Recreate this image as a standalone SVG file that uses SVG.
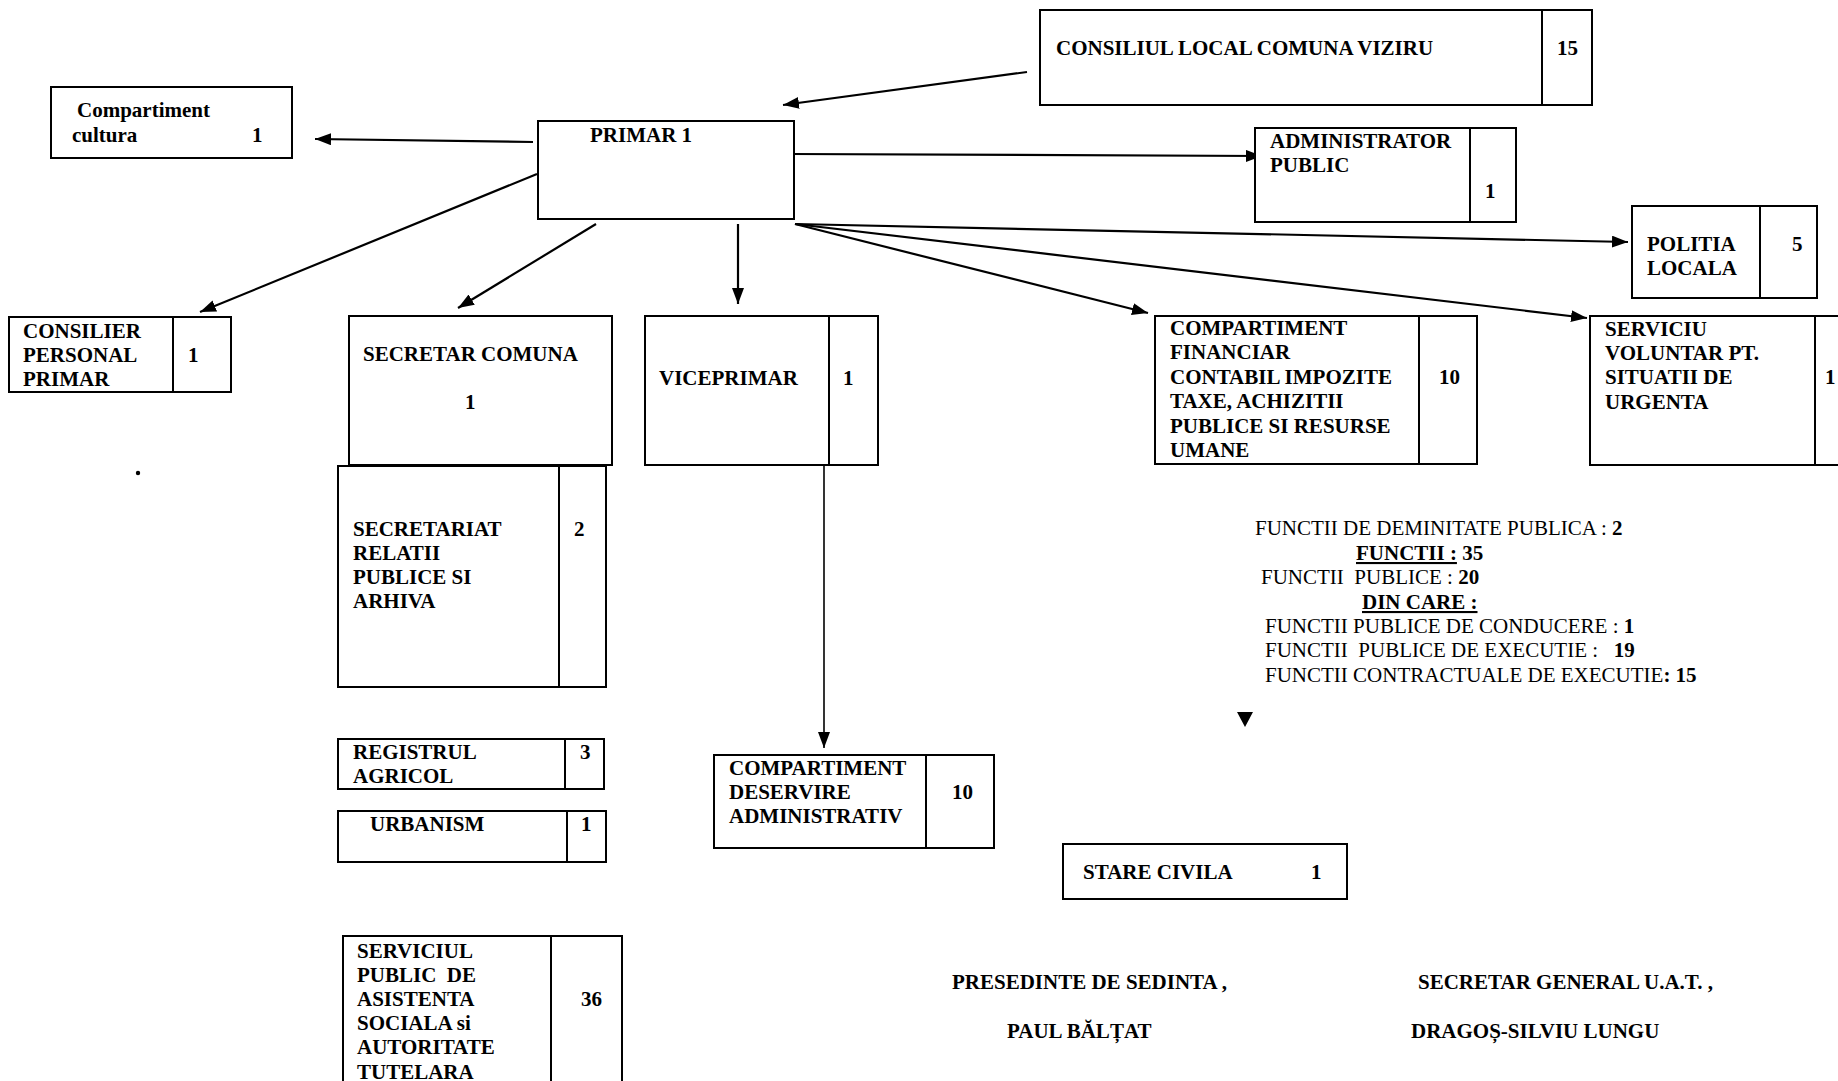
<svg xmlns="http://www.w3.org/2000/svg" width="1838" height="1081" viewBox="0 0 1838 1081">
<defs>
<marker id="ah" markerUnits="userSpaceOnUse" markerWidth="18" markerHeight="14" refX="16" refY="6" orient="auto">
<path d="M0,0 L16,6 L0,12 z" fill="#000"/>
</marker>
<style>
.b{fill:#fff;stroke:#000;stroke-width:2}
.d{stroke:#000;stroke-width:2}
.t{font-family:"Liberation Serif","Times New Roman",serif;font-size:21px;font-weight:bold;fill:#000;white-space:pre}
.r{font-family:"Liberation Serif","Times New Roman",serif;font-size:21px;font-weight:normal;fill:#000;white-space:pre}
.bo{font-weight:bold}
.u{text-decoration:underline}
.c{fill:none;stroke:#000;stroke-width:2.2;marker-end:url(#ah)}
</style>
</defs>
<rect width="1838" height="1081" fill="#fff"/>

<g id="connectors">
<line class="c" x1="1027" y1="72" x2="783" y2="105"/>
<line class="c" x1="533" y1="142" x2="315" y2="139"/>
<line class="c" x1="790" y1="154" x2="1262" y2="156"/>
<line class="c" x1="537" y1="174" x2="200" y2="312"/>
<line class="c" x1="596" y1="224" x2="458" y2="308"/>
<line class="c" x1="738" y1="224" x2="738" y2="304"/>
<line class="c" x1="795" y1="224" x2="1628" y2="242"/>
<line class="c" x1="795" y1="224" x2="1148" y2="313"/>
<line class="c" x1="795" y1="224" x2="1587" y2="318"/>
<line class="c" style="stroke-width:1.6" x1="824" y1="466" x2="824" y2="748"/>
<polygon points="1237,712 1253,712 1245,727" fill="#000"/>
</g>

<g id="consiliul">
<rect class="b" x="1040" y="10" width="552" height="95"/>
<line class="d" x1="1542" y1="10" x2="1542" y2="105"/>
<text class="t" x="1056" y="55">CONSILIUL LOCAL COMUNA VIZIRU</text>
<text class="t" x="1557" y="55">15</text>
</g>

<g id="primar">
<rect class="b" x="538" y="121" width="256" height="98"/>
<text class="t" x="590" y="142">PRIMAR 1</text>
</g>

<g id="cultura">
<rect class="b" x="51" y="87" width="241" height="71"/>
<text class="t" x="77" y="117">Compartiment</text>
<text class="t" x="72" y="142">cultura</text>
<text class="t" x="252" y="142">1</text>
</g>

<g id="administrator">
<rect class="b" x="1255" y="128" width="261" height="94"/>
<line class="d" x1="1470" y1="128" x2="1470" y2="222"/>
<text class="t" x="1270" y="148">ADMINISTRATOR</text>
<text class="t" x="1270" y="172">PUBLIC</text>
<text class="t" x="1485" y="198">1</text>
</g>

<g id="politia">
<rect class="b" x="1632" y="206" width="185" height="92"/>
<line class="d" x1="1760" y1="206" x2="1760" y2="298"/>
<text class="t" x="1647" y="251">POLITIA</text>
<text class="t" x="1647" y="275">LOCALA</text>
<text class="t" x="1792" y="251">5</text>
</g>

<g id="consilier">
<rect class="b" x="9" y="317" width="222" height="75"/>
<line class="d" x1="173" y1="317" x2="173" y2="392"/>
<text class="t" x="23" y="338">CONSILIER</text>
<text class="t" x="23" y="362">PERSONAL</text>
<text class="t" x="23" y="386">PRIMAR</text>
<text class="t" x="188" y="362">1</text>
</g>

<g id="secretar">
<rect class="b" x="349" y="316" width="263" height="149"/>
<text class="t" x="363" y="361">SECRETAR COMUNA</text>
<text class="t" x="465" y="409">1</text>
</g>

<g id="viceprimar">
<rect class="b" x="645" y="316" width="233" height="149"/>
<line class="d" x1="829" y1="316" x2="829" y2="465"/>
<text class="t" x="659" y="385">VICEPRIMAR</text>
<text class="t" x="843" y="385">1</text>
</g>

<g id="financiar">
<rect class="b" x="1155" y="316" width="322" height="148"/>
<line class="d" x1="1419" y1="316" x2="1419" y2="464"/>
<text class="t" x="1170" y="335">COMPARTIMENT</text>
<text class="t" x="1170" y="359">FINANCIAR</text>
<text class="t" x="1170" y="384">CONTABIL IMPOZITE</text>
<text class="t" x="1170" y="408">TAXE, ACHIZITII</text>
<text class="t" x="1170" y="433">PUBLICE SI RESURSE</text>
<text class="t" x="1170" y="457">UMANE</text>
<text class="t" x="1439" y="384">10</text>
</g>

<g id="serviciu-voluntar">
<rect class="b" x="1590" y="316" width="270" height="149"/>
<line class="d" x1="1815" y1="316" x2="1815" y2="465"/>
<text class="t" x="1605" y="336">SERVICIU</text>
<text class="t" x="1605" y="360">VOLUNTAR PT.</text>
<text class="t" x="1605" y="384">SITUATII DE</text>
<text class="t" x="1605" y="409">URGENTA</text>
<text class="t" x="1825" y="384">1</text>
</g>

<g id="secretariat">
<rect class="b" x="338" y="466" width="268" height="221"/>
<line class="d" x1="559" y1="466" x2="559" y2="687"/>
<text class="t" x="353" y="536">SECRETARIAT</text>
<text class="t" x="353" y="560">RELATII</text>
<text class="t" x="353" y="584">PUBLICE SI</text>
<text class="t" x="353" y="608">ARHIVA</text>
<text class="t" x="574" y="536">2</text>
</g>

<g id="registrul">
<rect class="b" x="338" y="739" width="266" height="50"/>
<line class="d" x1="565" y1="739" x2="565" y2="789"/>
<text class="t" x="353" y="759">REGISTRUL</text>
<text class="t" x="353" y="783">AGRICOL</text>
<text class="t" x="580" y="759">3</text>
</g>

<g id="urbanism">
<rect class="b" x="338" y="811" width="268" height="51"/>
<line class="d" x1="567" y1="811" x2="567" y2="862"/>
<text class="t" x="370" y="831">URBANISM</text>
<text class="t" x="581" y="831">1</text>
</g>

<g id="asistenta">
<rect class="b" x="343" y="936" width="279" height="160"/>
<line class="d" x1="551" y1="936" x2="551" y2="1096"/>
<text class="t" x="357" y="958">SERVICIUL</text>
<text class="t" x="357" y="982">PUBLIC  DE</text>
<text class="t" x="357" y="1006">ASISTENTA</text>
<text class="t" x="357" y="1030">SOCIALA si</text>
<text class="t" x="357" y="1054">AUTORITATE</text>
<text class="t" x="357" y="1079">TUTELARA</text>
<text class="t" x="581" y="1006">36</text>
</g>

<g id="deservire">
<rect class="b" x="714" y="755" width="280" height="93"/>
<line class="d" x1="926" y1="755" x2="926" y2="848"/>
<text class="t" x="729" y="775">COMPARTIMENT</text>
<text class="t" x="729" y="799">DESERVIRE</text>
<text class="t" x="729" y="823">ADMINISTRATIV</text>
<text class="t" x="952" y="799">10</text>
</g>

<g id="stare-civila">
<rect class="b" x="1063" y="844" width="284" height="55"/>
<text class="t" x="1083" y="879">STARE CIVILA</text>
<text class="t" x="1311" y="879">1</text>
</g>

<g id="functii">
<text class="r" x="1255" y="535">FUNCTII DE DEMINITATE PUBLICA : <tspan class="bo">2</tspan></text>
<text class="r" x="1356" y="560"><tspan class="bo u">FUNCTII :</tspan><tspan class="bo"> 35</tspan></text>
<text class="r" x="1261" y="584">FUNCTII  PUBLICE : <tspan class="bo">20</tspan></text>
<text class="r" x="1362" y="609"><tspan class="bo u">DIN CARE :</tspan></text>
<text class="r" x="1265" y="633">FUNCTII PUBLICE DE CONDUCERE : <tspan class="bo">1</tspan></text>
<text class="r" x="1265" y="657">FUNCTII  PUBLICE DE EXECUTIE :   <tspan class="bo">19</tspan></text>
<text class="r" x="1265" y="682">FUNCTII CONTRACTUALE DE EXECUTIE<tspan class="bo">: 15</tspan></text>
</g>

<circle cx="138" cy="473" r="2.2" fill="#000"/>

<g id="semnaturi">
<text class="t" x="952" y="989">PRESEDINTE DE SEDINTA ,</text>
<text class="t" x="1007" y="1038">PAUL BĂLȚAT</text>
<text class="t" x="1418" y="989">SECRETAR GENERAL U.A.T. ,</text>
<text class="t" x="1411" y="1038">DRAGOȘ-SILVIU LUNGU</text>
</g>
</svg>
